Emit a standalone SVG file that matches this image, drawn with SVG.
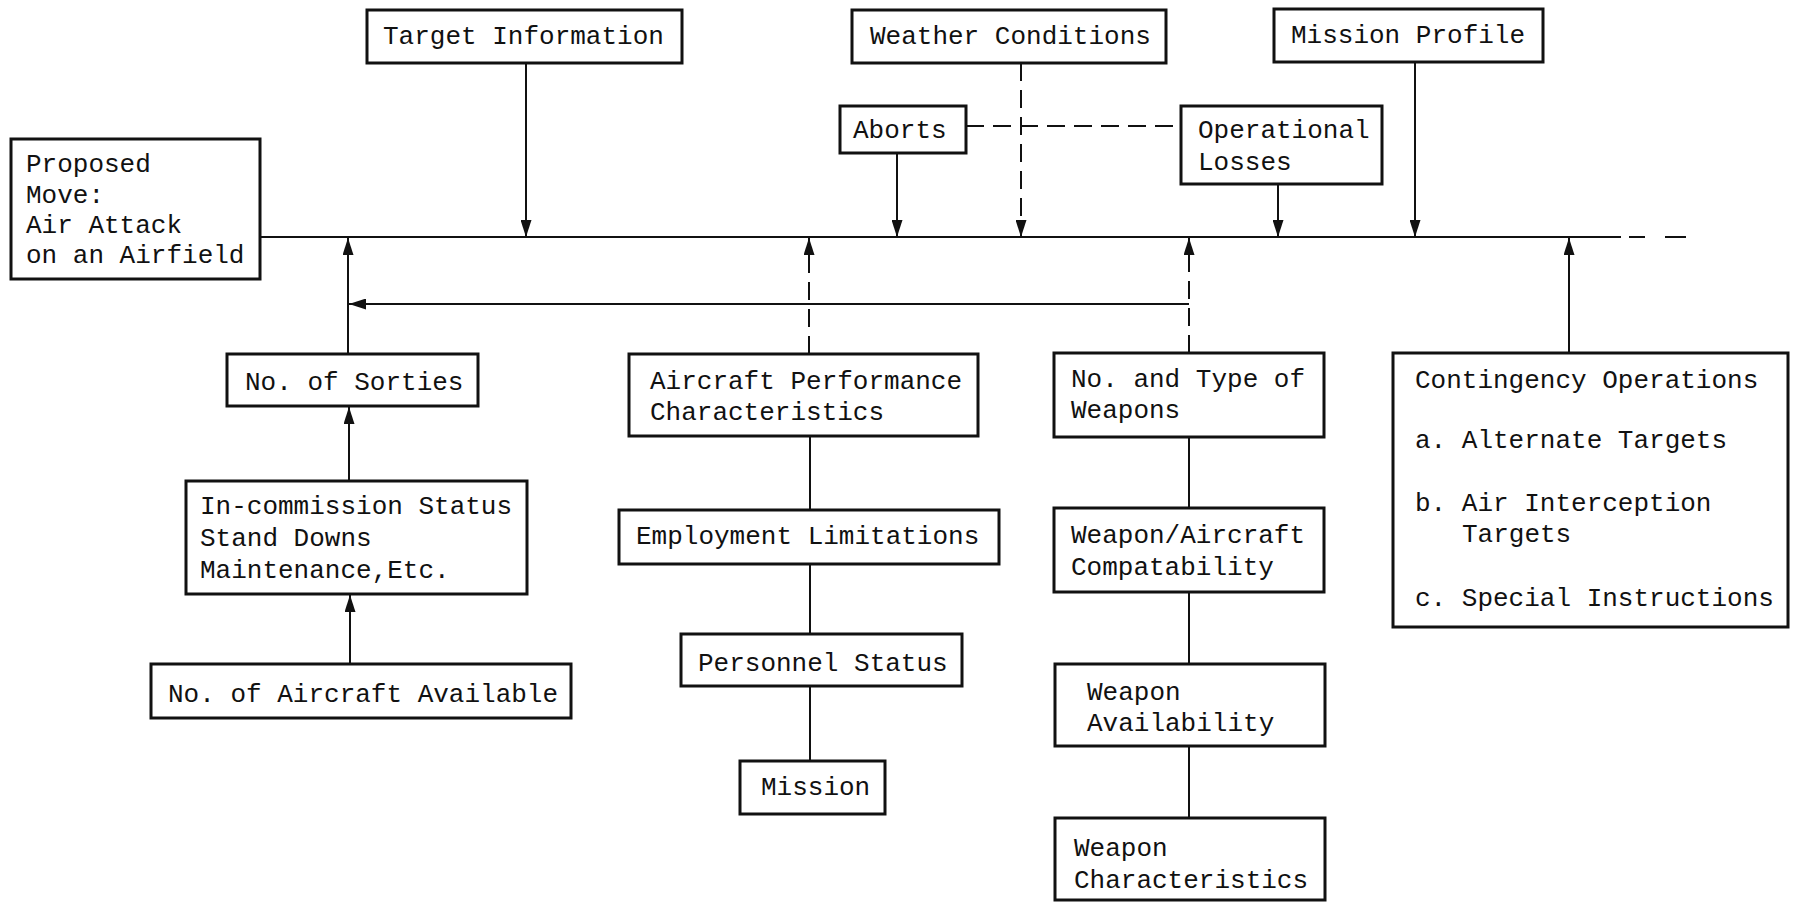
<svg xmlns="http://www.w3.org/2000/svg" width="1797" height="903" viewBox="0 0 1797 903">
<style>
.box{fill:#fff;stroke:#111;stroke-width:3}
.t{font-family:"Liberation Mono","DejaVu Sans Mono",monospace;font-size:26px;fill:#111}
.ln{stroke:#111;stroke-width:2;fill:none}
.dash{stroke:#111;stroke-width:2;fill:none;stroke-dasharray:18 9}
</style>
<defs>
<marker id="ah" markerUnits="userSpaceOnUse" markerWidth="17" markerHeight="11" refX="17" refY="5.5" orient="auto">
<path d="M0,0 L17,5.5 L0,11 z" fill="#111"/>
</marker>
</defs>
<rect width="1797" height="903" fill="#fff"/>
<g id="connectors">
<line class="ln" x1="259" y1="237" x2="1621" y2="237"/>
<line class="ln" x1="1629" y1="237" x2="1645" y2="237"/>
<line class="ln" x1="1665" y1="237" x2="1686" y2="237"/>
<line class="ln" x1="526" y1="63" x2="526" y2="237" marker-end="url(#ah)"/>
<line class="dash" x1="1021" y1="63" x2="1021" y2="237" marker-end="url(#ah)"/>
<line class="ln" x1="897" y1="153" x2="897" y2="237" marker-end="url(#ah)"/>
<line class="dash" x1="966" y1="126" x2="1181" y2="126"/>
<line class="ln" x1="1278" y1="184" x2="1278" y2="237" marker-end="url(#ah)"/>
<line class="ln" x1="1415" y1="62" x2="1415" y2="237" marker-end="url(#ah)"/>
<line class="ln" x1="1569" y1="353" x2="1569" y2="238" marker-end="url(#ah)"/>
<line class="ln" x1="348" y1="354" x2="348" y2="238" marker-end="url(#ah)"/>
<line class="ln" x1="1189" y1="304" x2="349" y2="304" marker-end="url(#ah)"/>
<line class="dash" x1="809" y1="354" x2="809" y2="238" marker-end="url(#ah)"/>
<line class="dash" x1="1189" y1="353" x2="1189" y2="238" marker-end="url(#ah)"/>
<line class="ln" x1="349" y1="481" x2="349" y2="407" marker-end="url(#ah)"/>
<line class="ln" x1="350" y1="664" x2="350" y2="595" marker-end="url(#ah)"/>
<line class="ln" x1="810" y1="436" x2="810" y2="510"/>
<line class="ln" x1="810" y1="564" x2="810" y2="634"/>
<line class="ln" x1="810" y1="686" x2="810" y2="761"/>
<line class="ln" x1="1189" y1="437" x2="1189" y2="508"/>
<line class="ln" x1="1189" y1="592" x2="1189" y2="664"/>
<line class="ln" x1="1189" y1="746" x2="1189" y2="818"/>
</g>
<g id="proposed-move">
<rect class="box" x="11" y="139" width="249" height="140"/>
<text class="t" x="26" y="172">Proposed</text>
<text class="t" x="26" y="203">Move:</text>
<text class="t" x="26" y="233">Air Attack</text>
<text class="t" x="26" y="263">on an Airfield</text>
</g>
<g id="target-information">
<rect class="box" x="367" y="10" width="315" height="53"/>
<text class="t" x="383" y="44">Target Information</text>
</g>
<g id="weather-conditions">
<rect class="box" x="852" y="10" width="314" height="53"/>
<text class="t" x="870" y="44">Weather Conditions</text>
</g>
<g id="mission-profile">
<rect class="box" x="1274" y="9" width="269" height="53"/>
<text class="t" x="1291" y="43">Mission Profile</text>
</g>
<g id="aborts">
<rect class="box" x="840" y="106" width="126" height="47"/>
<text class="t" x="853" y="138">Aborts</text>
</g>
<g id="operational-losses">
<rect class="box" x="1181" y="106" width="201" height="78"/>
<text class="t" x="1198" y="138">Operational</text>
<text class="t" x="1198" y="170">Losses</text>
</g>
<g id="no-of-sorties">
<rect class="box" x="227" y="354" width="251" height="52"/>
<text class="t" x="245" y="390">No. of Sorties</text>
</g>
<g id="in-commission">
<rect class="box" x="186" y="481" width="341" height="113"/>
<text class="t" x="200" y="514">In-commission Status</text>
<text class="t" x="200" y="546">Stand Downs</text>
<text class="t" x="200" y="578">Maintenance,Etc.</text>
</g>
<g id="no-of-aircraft">
<rect class="box" x="151" y="664" width="420" height="54"/>
<text class="t" x="168" y="702">No. of Aircraft Available</text>
</g>
<g id="aircraft-performance">
<rect class="box" x="629" y="354" width="349" height="82"/>
<text class="t" x="650" y="389">Aircraft Performance</text>
<text class="t" x="650" y="420">Characteristics</text>
</g>
<g id="employment-limitations">
<rect class="box" x="619" y="510" width="380" height="54"/>
<text class="t" x="636" y="544">Employment Limitations</text>
</g>
<g id="personnel-status">
<rect class="box" x="681" y="634" width="281" height="52"/>
<text class="t" x="698" y="671">Personnel Status</text>
</g>
<g id="mission">
<rect class="box" x="740" y="761" width="145" height="53"/>
<text class="t" x="761" y="795">Mission</text>
</g>
<g id="no-and-type">
<rect class="box" x="1054" y="353" width="270" height="84"/>
<text class="t" x="1071" y="387">No. and Type of</text>
<text class="t" x="1071" y="418">Weapons</text>
</g>
<g id="compatability">
<rect class="box" x="1054" y="508" width="270" height="84"/>
<text class="t" x="1071" y="543">Weapon/Aircraft</text>
<text class="t" x="1071" y="575">Compatability</text>
</g>
<g id="weapon-availability">
<rect class="box" x="1055" y="664" width="270" height="82"/>
<text class="t" x="1087" y="700">Weapon</text>
<text class="t" x="1087" y="731">Availability</text>
</g>
<g id="weapon-characteristics">
<rect class="box" x="1055" y="818" width="270" height="82"/>
<text class="t" x="1074" y="856">Weapon</text>
<text class="t" x="1074" y="888">Characteristics</text>
</g>
<g id="contingency-operations">
<rect class="box" x="1393" y="353" width="395" height="274"/>
<text class="t" x="1415" y="388">Contingency Operations</text>
<text class="t" x="1415" y="448">a. Alternate Targets</text>
<text class="t" x="1415" y="511">b. Air Interception</text>
<text class="t" x="1462" y="542">Targets</text>
<text class="t" x="1415" y="606">c. Special Instructions</text>
</g>
</svg>
